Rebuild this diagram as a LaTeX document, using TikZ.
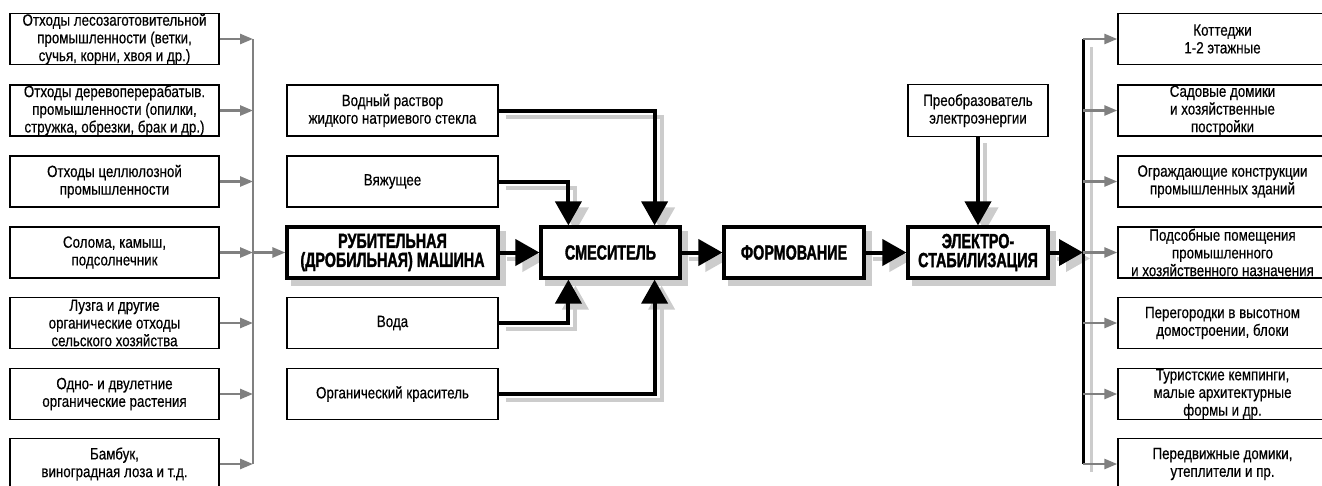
\documentclass[tikz,border=0pt]{standalone}
\usepackage{fontspec}
\setmainfont{Liberation Sans}[FakeStretch=0.82,FakeBold=0.4]
\newfontfamily\heavyfont{Liberation Sans}[FakeStretch=0.70,FakeBold=1.5]
\usetikzlibrary{arrows.meta,calc}
\pgfdeclarelayer{bg}
\pgfsetlayers{bg,main}
\definecolor{shadowgray}{gray}{0.80}
\definecolor{conngray}{gray}{0.50}
\tikzset{
  every node/.style={inner sep=0pt, align=center},
  thinbox/.style={draw, line width=1.4pt, fill=white, minimum height=51pt, font=\fontsize{16.3}{17.7}\selectfont},
  sidebox/.style={thinbox, minimum width=209pt},
  midbox/.style={thinbox, minimum width=211pt},
  heavybox/.style={draw, line width=3.2pt, fill=white, minimum height=51pt, font=\heavyfont\bfseries\fontsize{20.5}{19}\selectfont},
  garrow/.style={draw=conngray, line width=2.6pt, -{Triangle[length=13pt,width=10pt]}},
  gline/.style={draw=conngray, line width=2.6pt},
  barrow/.style={draw=black, line width=4pt, -{Triangle[length=24pt,width=26pt]}},
  sarrow/.style={draw=shadowgray, line width=4pt, -{Triangle[length=24pt,width=26pt]}},
}
\newcommand\flowarrow[1]{%
  \begin{pgfonlayer}{bg}\draw[sarrow,transform canvas={xshift=7pt,yshift=-6pt}] #1;\end{pgfonlayer}%
  \draw[barrow] #1;}
\newcommand\boxshadow[1]{%
  \begin{pgfonlayer}{bg}\fill[shadowgray] ([shift={(6,6)}]#1.north west) rectangle ([shift={(6,6)}]#1.south east);\end{pgfonlayer}}
\begin{document}
\begin{tikzpicture}[x=1pt,y=-1pt]
\useasboundingbox (0,0) rectangle (1322,485);
% left column
\node[sidebox] (l1) at (114.5,39) {Отходы лесозаготовительной\\промышленности (ветки,\\сучья, корни, хвоя и др.)};
\node[sidebox] (l2) at (114.5,110.5) {Отходы деревоперерабатыв.\\промышленности (опилки,\\стружка, обрезки, брак и др.)};
\node[sidebox] (l3) at (114.5,181.5) {Отходы целлюлозной\\промышленности};
\node[sidebox] (l4) at (114.5,252.5) {Солома, камыш,\\подсолнечник};
\node[sidebox] (l5) at (114.5,323) {Лузга и другие\\органические отходы\\сельского хозяйства};
\node[sidebox] (l6) at (114.5,394) {Одно- и двулетние\\органические растения};
\node[sidebox] (l7) at (114.5,464) {Бамбук,\\виноградная лоза и т.д.};
% middle column
\node[midbox] (w1) at (392.5,110.5) {Водный раствор\\жидкого натриевого стекла};
\node[midbox] (vj) at (392.5,181.5) {Вяжущее};
\node[heavybox, minimum width=211pt] (rub) at (392.5,252.5) {РУБИТЕЛЬНАЯ\\(ДРОБИЛЬНАЯ) МАШИНА};
\node[midbox] (vd) at (392.5,323) {Вода};
\node[midbox] (ok) at (392.5,394) {Органический краситель};
\node[heavybox, minimum width=139pt] (mix) at (610.5,252.5) {СМЕСИТЕЛЬ};
\node[heavybox, minimum width=140pt] (form) at (794,252.5) {ФОРМОВАНИЕ};
\node[heavybox, minimum width=140pt] (el) at (978,252.5) {ЭЛЕКТРО-\\СТАБИЛИЗАЦИЯ};
\node[thinbox, minimum width=140pt, minimum height=52pt] (pr) at (978,110.5) {Преобразователь\\электроэнергии};
% right column
\node[sidebox] (r1) at (1222.5,39) {Коттеджи\\1-2 этажные};
\node[sidebox] (r2) at (1222.5,110.5) {Садовые домики\\и хозяйственные\\постройки};
\node[sidebox] (r3) at (1222.5,181.5) {Ограждающие конструкции\\промышленных зданий};
\node[sidebox] (r4) at (1222.5,252.5) {Подсобные помещения\\промышленного\\и хозяйственного назначения};
\node[sidebox] (r5) at (1222.5,323) {Перегородки в высотном\\домостроении, блоки};
\node[sidebox] (r6) at (1222.5,394) {Туристские кемпинги,\\малые архитектурные\\формы и др.};
\node[sidebox] (r7) at (1222.5,464) {Передвижные домики,\\утеплители и пр.};
% box shadows
\boxshadow{rub}\boxshadow{mix}\boxshadow{form}\boxshadow{el}
% left bus
\coordinate (lbus) at (253,0);
\draw[gline] (l1.east -| lbus) -- (l7.east -| lbus);
\foreach \n in {l1,l2,l3,l4,l5,l6,l7} {\draw[garrow] (\n.east) -- (\n.east -| lbus);}
\draw[garrow] (l4.east -| lbus) -- (rub.west);
% main flow
\flowarrow{(rub.east) -- (mix.west)}
\flowarrow{(w1.east) -| ([xshift=-27pt]mix.north east)}
\flowarrow{(vj.east) -| ([xshift=29pt]mix.north west)}
\flowarrow{(vd.east) -| ([xshift=29pt]mix.south west)}
\flowarrow{(ok.east) -| ([xshift=-27pt]mix.south east)}
\flowarrow{(mix.east) -- (form.west)}
\flowarrow{(form.east) -- (el.west)}
\flowarrow{(pr.south) -- (el.north)}
% right bus
\coordinate (rbus) at (1083,0);
\begin{pgfonlayer}{bg}
\draw[draw=shadowgray, line width=3pt, transform canvas={xshift=8pt,yshift=-8pt}] (r1.west -| rbus) -- (r7.west -| rbus);
\end{pgfonlayer}
\flowarrow{(el.east) -- (el.east -| rbus)}
\draw[black, line width=3pt] (r1.west -| rbus) -- (r7.west -| rbus);
\foreach \n in {r1,r2,r3,r4,r5,r6,r7} {\draw[garrow] (\n.west -| rbus) -- (\n.west);}
\end{tikzpicture}
\end{document}
